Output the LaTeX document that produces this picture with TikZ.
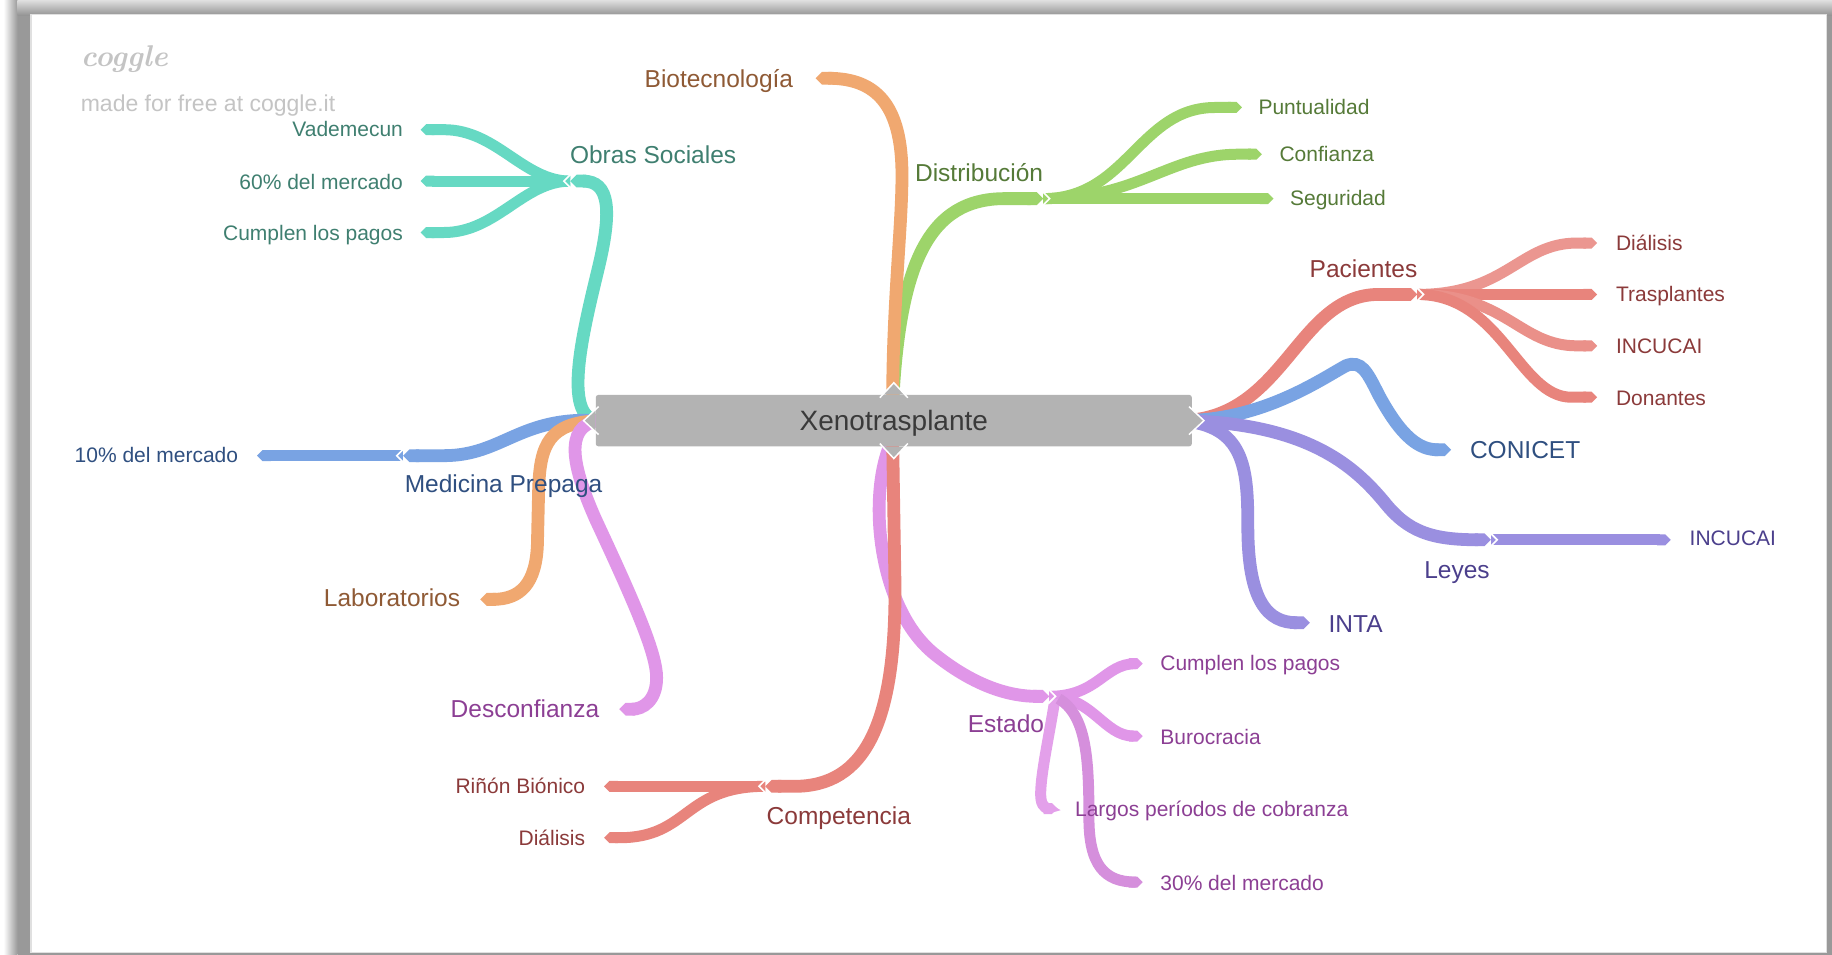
\documentclass[tikz,border=0pt]{standalone}
\usepackage{fontspec}
\setmainfont{Liberation Sans}
\newfontfamily\cogglefont{Latin Modern Roman}
\usetikzlibrary{arrows.meta}

% branch colours
\definecolor{cTeal}{HTML}{66D9C3}
\definecolor{cOrange}{HTML}{F0A870}
\definecolor{cGreen}{HTML}{9DD46A}
\definecolor{cRed}{HTML}{E8847C}
\definecolor{cBlue}{HTML}{79A3E3}
\definecolor{cPurple}{HTML}{9A8FE0}
\definecolor{cPink}{HTML}{E096E8}
% label colours
\definecolor{tTeal}{HTML}{3F7F70}
\definecolor{tOrange}{HTML}{8F5A35}
\definecolor{tGreen}{HTML}{557A38}
\definecolor{tRed}{HTML}{8B3A3A}
\definecolor{tBlue}{HTML}{2F4F80}
\definecolor{tPurple}{HTML}{4B3F8C}
\definecolor{tPink}{HTML}{8C3F94}
\definecolor{cBox}{HTML}{B3B3B3}
\definecolor{cRootText}{HTML}{3A3A3A}
\definecolor{cMark}{HTML}{C4C4C4}

\tikzset{
  br/.style={line width=12.8pt, -{Triangle Cap[]}},
  lf/.style={line width=11pt, -{Triangle Cap[]}},
  t1/.style={font=\fontsize{24.5}{28}\selectfont, inner sep=0pt, yshift=-7pt},
  t2/.style={font=\fontsize{21}{24}\selectfont, inner sep=0pt, yshift=-5.8pt},
  chevL/.pic={\draw[white,line width=1.6pt] (0.8,-6.2) -- (-5.4,0) -- (0.8,6.2);},
  chevR/.pic={\draw[white,line width=1.6pt] (-0.8,-6.2) -- (5.4,0) -- (-0.8,6.2);},
}

\begin{document}
\begin{tikzpicture}[x=1.1684pt,y=-1.1684pt]
% page and shadowed frame
\fill[white] (0,0) rectangle (1568,817);
\shade[left color=white, right color=black!40] (3,0) rectangle (15,817);
\fill[black!40] (15,0) rectangle (1568,817);
\shade[top color=black!12, bottom color=black!42] (15,0) rectangle (1568,13);
\fill[black!12] (26,12) rectangle (1564,816);
\fill[white] (27,13) rectangle (1563,815);

% watermark
\node[anchor=west, inner sep=0pt, text=cMark, font=\cogglefont\bfseries\itshape\fontsize{30}{30}\selectfont] (wm) at (69,51) {coggle};
\node[anchor=mid west, inner sep=0pt, text=cMark, font=\fontsize{23}{26}\selectfont, yshift=-5.8pt] (wm2) at (69,88) {made for free at coggle.it};

% anchor points on the central topic
\coordinate (rL) at (512,360);
\coordinate (rT) at (764,345);
\coordinate (rB) at (764,376);
\coordinate (rR) at (1012,360);

% junctions
\coordinate (jObras) at (488,155);
\coordinate (jMed) at (345,390);
\coordinate (jDist) at (893,170);
\coordinate (jPac) at (1213,252);
\coordinate (jLey) at (1276,462);
\coordinate (jComp) at (655,673);
\coordinate (jEst) at (898,596);

% ---------- Obras Sociales ----------
\draw[lf, cTeal] (jObras) .. controls (448,155) and (425,111) .. (380,111) -- (360,111);
\draw[lf, cTeal] (jObras) -- (360,155);
\draw[lf, cTeal] (jObras) .. controls (448,155) and (425,199) .. (380,199) -- (360,199);
\draw[br, cTeal] (rL) .. controls (480,358) and (500,280) .. (512,230)
                 .. controls (524,180) and (522,155) .. (jObras);
\pic at (jObras) {chevL};

% ---------- Medicina Prepaga ----------
\draw[lf, cBlue] (jMed) -- (220,390);
\draw[br, cBlue] (rL) .. controls (445,356) and (430,390) .. (380,390) -- (jMed);
\pic at (jMed) {chevL};

% ---------- Laboratorios ----------
\draw[br, cOrange] (rL) .. controls (470,362) and (462,380) .. (461,420) -- (460,465)
                   .. controls (459,500) and (445,513) .. (411,513);

% ---------- Desconfianza ----------
\draw[br, cPink] (rL) .. controls (482,365) and (490,400) .. (510,445)
                 .. controls (545,520) and (562,560) .. (562,580)
                 .. controls (562,600) and (550,607) .. (530,607);

% ---------- Distribucion ----------
\draw[lf, cGreen] (jDist) .. controls (965,170) and (975,92) .. (1040,92) -- (1063,92);
\draw[lf, cGreen] (jDist) .. controls (975,170) and (1000,132) .. (1060,132) -- (1080,132);
\draw[lf, cGreen] (jDist) -- (1090,170);
\draw[br, cGreen] (rT) .. controls (770,225) and (795,170) .. (860,170) -- (jDist);
\pic at (jDist) {chevR};

% ---------- Biotecnologia ----------
\draw[br, cOrange] (rT) .. controls (764,260) and (772,195) .. (772,150)
                   .. controls (772,90) and (750,67) .. (698,67);

% ---------- Pacientes ----------
\draw[lf, cRed!85!white] (jPac) .. controls (1290,252) and (1300,208) .. (1350,208) -- (1367,208);
\draw[lf, cRed] (jPac) -- (1367,252);
\draw[lf, cRed!90!white] (jPac) .. controls (1290,252) and (1300,296) .. (1350,296) -- (1367,296);
\draw[lf, cRed] (jPac) .. controls (1285,252) and (1300,340) .. (1345,340) -- (1367,340);
\draw[br, cRed] (rR) .. controls (1100,358) and (1110,252) .. (1180,252) -- (jPac);
\pic at (jPac) {chevR};

% ---------- CONICET ----------
\draw[br, cBlue] (rR) .. controls (1080,360) and (1130,325) .. (1152,313)
                 .. controls (1165,308) and (1170,318) .. (1180,338)
                 .. controls (1200,375) and (1215,385) .. (1242,385);

% ---------- Leyes ----------
\draw[lf, cPurple] (jLey) -- (1430,462);
\draw[br, cPurple] (rR) .. controls (1120,362) and (1160,400) .. (1185,430)
                   .. controls (1205,455) and (1225,462) .. (jLey);
\pic at (jLey) {chevR};

% ---------- INTA ----------
\draw[br, cPurple] (rR) .. controls (1065,365) and (1068,400) .. (1068,450)
                   .. controls (1068,515) and (1085,533) .. (1121,533);

% ---------- Estado ----------
\draw[lf, cPink] (jEst) .. controls (940,596) and (945,568) .. (972,568) -- (978,568);
\draw[lf, cPink] (jEst) .. controls (935,596) and (945,630) .. (970,630) -- (978,630);
\draw[lf, cPink!90!white] (903,598) .. controls (898,630) and (889,670) .. (891,684)
                          .. controls (892,692) and (898,692) .. (905,692);
\draw[lf, cPink!95!black] (906,598) .. controls (930,612) and (932,650) .. (932,700)
                          .. controls (932,740) and (945,755) .. (972,755) -- (978,755);
\draw[br, cPink] (rB) .. controls (742,420) and (750,520) .. (800,560)
                 .. controls (835,588) and (865,596) .. (jEst);
\pic at (jEst) {chevR};

% ---------- Competencia ----------
\draw[lf, cRed] (jComp) -- (517,673);
\draw[lf, cRed] (jComp) .. controls (585,673) and (590,717) .. (530,717) -- (517,717);
\draw[br, cRed] (rB) -- (766,500) .. controls (767,620) and (740,673) .. (680,673) -- (jComp);
\pic at (jComp) {chevL};

% ---------- central topic ----------
\node[fill=cBox, rounded corners=2.5pt, minimum width=596pt, minimum height=51.4pt,
      inner sep=0pt, text depth=0pt, text=cRootText, font=\fontsize{28}{32}\selectfont] (root) at (765,360) {Xenotrasplante};
\fill[cBox] ([xshift=-11pt]root.north) -- ([yshift=12pt]root.north) -- ([xshift=11pt]root.north) -- cycle;
\draw[white, line width=1.5pt] ([xshift=-14pt,yshift=-3pt]root.north) -- ([yshift=12pt]root.north) -- ([xshift=14pt,yshift=-3pt]root.north);
\fill[cBox] ([xshift=-11pt]root.south) -- ([yshift=-12pt]root.south) -- ([xshift=11pt]root.south) -- cycle;
\draw[white, line width=1.5pt] ([xshift=-14pt,yshift=3pt]root.south) -- ([yshift=-12pt]root.south) -- ([xshift=14pt,yshift=3pt]root.south);
\fill[cBox] ([yshift=-11pt]root.west) -- ([xshift=-12pt]root.west) -- ([yshift=11pt]root.west) -- cycle;
\draw[white, line width=1.5pt] ([xshift=3pt,yshift=-14pt]root.west) -- ([xshift=-12pt]root.west) -- ([xshift=3pt,yshift=14pt]root.west);
\fill[cBox] ([yshift=-11pt]root.east) -- ([xshift=12pt]root.east) -- ([yshift=11pt]root.east) -- cycle;
\draw[white, line width=1.5pt] ([xshift=-3pt,yshift=-14pt]root.east) -- ([xshift=12pt]root.east) -- ([xshift=-3pt,yshift=14pt]root.east);

% ---------- labels ----------
\node[t1, text=tTeal, anchor=mid] (nObras) at (559,132) {Obras Sociales};
\node[t2, text=tTeal, anchor=mid east] (nVad) at (345,110) {Vademecun};
\node[t2, text=tTeal, anchor=mid east] (nSes) at (345,155) {60\% del mercado};
\node[t2, text=tTeal, anchor=mid east] (nCum1) at (345,199) {Cumplen los pagos};

\node[t1, text=tBlue, anchor=mid] (nMed) at (431,413) {Medicina Prepaga};
\node[t2, text=tBlue, anchor=mid east] (nDiez) at (204,389) {10\% del mercado};

\node[t1, text=tOrange, anchor=mid east] (nLab) at (394,511) {Laboratorios};
\node[t1, text=tPink, anchor=mid east] (nDesc) at (513,606) {Desconfianza};
\node[t1, text=tOrange, anchor=mid east] (nBio) at (679,67) {Biotecnología};

\node[t1, text=tGreen, anchor=mid] (nDist) at (838,147) {Distribución};
\node[t2, text=tGreen, anchor=mid west] (nPunt) at (1077,91) {Puntualidad};
\node[t2, text=tGreen, anchor=mid west] (nConf) at (1095,131) {Confianza};
\node[t2, text=tGreen, anchor=mid west] (nSeg) at (1104,169) {Seguridad};

\node[t1, text=tRed, anchor=mid] (nPac) at (1167,229) {Pacientes};
\node[t2, text=tRed, anchor=mid west] (nDia1) at (1383,207) {Diálisis};
\node[t2, text=tRed, anchor=mid west] (nTras) at (1383,251) {Trasplantes};
\node[t2, text=tRed, anchor=mid west] (nInc1) at (1383,295) {INCUCAI};
\node[t2, text=tRed, anchor=mid west] (nDon) at (1383,340) {Donantes};

\node[t1, text=tBlue, anchor=mid west] (nCon) at (1258,384) {CONICET};
\node[t1, text=tPurple, anchor=mid] (nLey) at (1247,487) {Leyes};
\node[t2, text=tPurple, anchor=mid west] (nInc2) at (1446,460) {INCUCAI};
\node[t1, text=tPurple, anchor=mid west] (nInta) at (1137,533) {INTA};

\node[t1, text=tRed, anchor=mid] (nComp) at (718,697) {Competencia};
\node[t2, text=tRed, anchor=mid east] (nRin) at (501,672) {Riñón Biónico};
\node[t2, text=tRed, anchor=mid east] (nDia2) at (501,716) {Diálisis};

\node[t1, text=tPink, anchor=mid] (nEst) at (861,619) {Estado};
\node[t2, text=tPink, anchor=mid west] (nCum2) at (993,567) {Cumplen los pagos};
\node[t2, text=tPink, anchor=mid west] (nBur) at (993,630) {Burocracia};
\node[t2, text=tPink, anchor=mid west] (nLar) at (920,692) {Largos períodos de cobranza};
\node[t2, text=tPink, anchor=mid west] (nTre) at (993,755) {30\% del mercado};
\end{tikzpicture}
\end{document}
